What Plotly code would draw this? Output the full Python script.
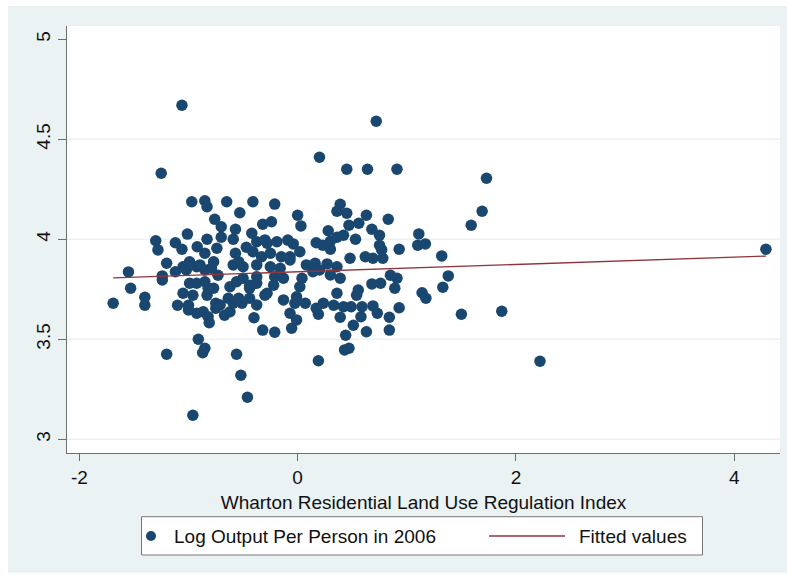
import plotly.graph_objects as go

# Wharton Residential Land Use Regulation Index (x) vs Log Output Per Person in 2006 (y)
X_VALS = [
    -1.06, -1.25, 0.72, 0.20, 0.45, 0.64, 0.91, 1.73, 1.69, 1.59, 1.87, 2.22, 4.29, 1.50,
    -0.96, -0.46, -0.52, -0.56, -1.20, -0.91, -0.85, -0.87, 0.19, 0.43, 0.47,
    -1.69, -1.55, -1.53, -1.40, -1.40, -1.24, -1.24, -1.20, -1.30, -1.28, -1.12, -1.06, -1.01,
    -0.97, -0.85, -0.83, -0.65, -0.41, -0.21, -0.53, -0.76, -0.70, -0.70, -0.57, -0.59,
    -0.32, -0.24, -0.92, -0.83, -0.74, -0.85, -0.57, -0.47, -0.42, -0.375, -0.28, -0.19,
    -0.09, -0.04, 0.02, -0.07, -0.25, -0.33, -0.15, -0.41, -0.30,
    0.00, 0.03, 0.39, 0.36, 0.45, 0.63, 0.83, 0.47, 0.56, 0.28, 0.68, 0.75, 0.42, 0.36,
    0.53, 0.17, 0.23, 0.30, 0.75, 0.77, 1.11, 1.10, 1.17, 0.93, 1.32, 0.48, 0.62, 0.69,
    0.78, 0.30,
    0.08, 0.16, 0.27, 0.36, 0.14, 0.20, 0.30, 0.39, 0.04, 0.02, -0.01, -0.025, 0.07,
    -0.07, -0.01, -0.055, 0.85, 0.91, 1.38, 0.68, 0.76, 0.89, 1.33, 1.14, 1.175, 0.36,
    0.555, 0.54, 0.235, 0.33, 0.42, 0.49, 0.59, 0.69, 0.73, 0.93, 0.19, 0.39, 0.58, 0.84,
    0.51, 0.63, 0.84, 0.44, 0.17,
    -1.10, -1.00, -1.00, -0.925, -0.865, -0.82, -0.81, -0.75, -0.75, -0.67, -0.635, -0.59,
    -0.40, -0.32, -0.21, -1.05, -0.99, -0.85, -0.82, -0.77, -0.83, -0.73, -0.62, -0.56,
    -0.50, -0.44, -0.375, -0.28, -0.22, -0.13, -0.54, -0.44, -1.12, -1.02, -0.925, -0.85,
    -0.79, -0.77, -0.59, -0.50, -0.375, -0.25, -0.16, -0.07, -1.05, -0.99, -0.895, -0.54,
    -0.375, -0.21, -0.44, -0.925, -0.96, -0.71, -0.51, -0.375, -0.30, -0.13, -0.62,
]
Y_VALS = [
    4.67, 4.33, 4.59, 4.41, 4.35, 4.35, 4.35, 4.305, 4.14, 4.07, 3.64, 3.39, 3.95, 3.625,
    3.12, 3.21, 3.32, 3.425, 3.425, 3.50, 3.455, 3.433, 3.393, 3.447, 3.455,
    3.68, 3.837, 3.755, 3.71, 3.67, 3.817, 3.797, 3.88, 3.993, 3.947, 3.983, 3.95, 4.026,
    4.188, 4.193, 4.163, 4.188, 4.188, 4.176, 4.133, 4.10, 4.063, 4.01, 4.05, 4.00,
    4.075, 4.088, 3.963, 4.00, 3.955, 3.93, 3.93, 3.96, 4.03, 3.988, 3.98, 3.988,
    3.996, 3.977, 3.938, 3.913, 3.93, 3.913, 3.913, 3.938, 3.997,
    4.12, 4.067, 4.175, 4.14, 4.13, 4.12, 4.10, 4.07, 4.08, 4.043, 4.05, 4.02, 4.02, 4.01,
    4.00, 3.983, 3.97, 3.95, 3.97, 3.947, 4.027, 3.97, 3.977, 3.95, 3.917, 3.905, 3.913, 3.905,
    3.905, 3.99,
    3.872, 3.88, 3.877, 3.863, 3.838, 3.847, 3.822, 3.805, 3.805, 3.763, 3.713, 3.68, 3.68,
    3.63, 3.597, 3.555, 3.82, 3.805, 3.817, 3.777, 3.78, 3.755, 3.76, 3.733, 3.705, 3.73,
    3.746, 3.72, 3.68, 3.67, 3.663, 3.663, 3.663, 3.667, 3.63, 3.658, 3.625, 3.61, 3.613, 3.61,
    3.57, 3.538, 3.546, 3.52, 3.655,
    3.67, 3.67, 3.647, 3.63, 3.638, 3.613, 3.583, 3.68, 3.655, 3.62, 3.705, 3.68,
    3.608, 3.546, 3.535, 3.73, 3.78, 3.788, 3.755, 3.755, 3.72, 3.82, 3.763, 3.788,
    3.805, 3.77, 3.78, 3.73, 3.77, 3.805, 3.705, 3.705, 3.838, 3.847, 3.863, 3.847,
    3.855, 3.888, 3.872, 3.863, 3.872, 3.863, 3.855, 3.897, 3.863, 3.888, 3.872, 3.888,
    3.813, 3.813, 3.755, 3.78, 3.72, 3.672, 3.68, 3.672, 3.72, 3.697, 3.638,
]

# Fitted values at the ends of the data range
FIT_X = [-1.69, 4.29]
FIT_Y = [3.807, 3.916]

X_TICKS = [-2, 0, 2, 4]
X_TICK_TEXT = ["-2", "0", "2", "4"]
Y_TICKS = [3, 3.5, 4, 4.5, 5]
Y_TICK_TEXT = ["3", "3.5", "4", "4.5", "5"]
GRID_Y = [3, 3.5, 4, 4.5]

SERIES_NAME = "Log Output Per Person in 2006"
FIT_NAME = "Fitted values"
X_TITLE = "Wharton Residential Land Use Regulation Index"

NAVY = "#1A476F"
MAROON = "#90353B"
BG = "#EAF2F3"
AXIS = "#6E6E6E"
FONT = "Liberation Sans, Arial, Helvetica, sans-serif"

fig = go.Figure()
fig.add_trace(go.Scatter(
    x=X_VALS, y=Y_VALS, mode="markers", name=SERIES_NAME,
    marker=dict(color=NAVY, size=11.5, line=dict(width=0)),
    showlegend=False, cliponaxis=False,
))
fig.add_trace(go.Scatter(
    x=FIT_X, y=FIT_Y, mode="lines", name=FIT_NAME,
    line=dict(color=MAROON, width=1.4), showlegend=False,
))

shapes = []
# outer graph region background
shapes.append(dict(type="rect", xref="paper", yref="paper", x0=-0.0827, x1=1.0098,
                   y0=-0.281, y1=1.0468, fillcolor=BG, line=dict(width=0), layer="below"))
# white plot region
shapes.append(dict(type="rect", xref="paper", yref="paper", x0=0, x1=1, y0=0, y1=1,
                   fillcolor="white", line=dict(width=0), layer="below"))
for gy in GRID_Y:
    shapes.append(dict(type="line", xref="paper", yref="y", x0=0, x1=1, y0=gy, y1=gy,
                       line=dict(color=BG, width=1.6), layer="below"))
# legend box
shapes.append(dict(type="rect", xref="paper", yref="paper", x0=0.1045, x1=0.8913,
                   y0=-0.2389, y1=-0.1492, fillcolor="white",
                   line=dict(color="#777777", width=1)))
# legend marker
shapes.append(dict(type="circle", xref="paper", yref="paper", xsizemode="pixel",
                   ysizemode="pixel", xanchor=0.1178, yanchor=-0.1944,
                   x0=-5, x1=5, y0=-5, y1=5, fillcolor=NAVY, line=dict(width=0)))
# legend line sample
shapes.append(dict(type="line", xref="paper", yref="paper", x0=0.5919, x1=0.6985,
                   y0=-0.1944, y1=-0.1944, line=dict(color=MAROON, width=1.4)))

annotations = [
    dict(text=SERIES_NAME, xref="paper", yref="paper", x=0.1473, y=-0.1944,
         xanchor="left", yanchor="middle", showarrow=False,
         font=dict(size=19, color="#111111", family=FONT)),
    dict(text=FIT_NAME, xref="paper", yref="paper", x=0.7153, y=-0.1944,
         xanchor="left", yanchor="middle", showarrow=False,
         font=dict(size=19, color="#111111", family=FONT)),
]

fig.update_layout(
    width=787, height=575,
    margin=dict(l=67, r=7, t=26, b=122, pad=0),
    paper_bgcolor="white", plot_bgcolor="rgba(0,0,0,0)",
    font=dict(family=FONT, size=19, color="#111111"),
    shapes=shapes, annotations=annotations, showlegend=False,
)
fig.update_xaxes(
    range=[-2.113, 4.419], tickvals=X_TICKS, ticktext=X_TICK_TEXT, ticks="outside",
    ticklen=7, tickcolor=AXIS, tickwidth=1.2, showline=True, linecolor=AXIS, linewidth=1.4,
    showgrid=False, zeroline=False, tickfont=dict(size=19, color="#111111"),
    title=dict(text=X_TITLE, font=dict(size=19, color="#111111"), standoff=8),
)
fig.update_yaxes(
    range=[2.9315, 5.0665], tickvals=Y_TICKS, ticktext=Y_TICK_TEXT, ticks="outside",
    ticklen=8, tickcolor=AXIS, tickwidth=1.2, showline=True, linecolor=AXIS,
    linewidth=1.4, showgrid=False, zeroline=False, tickangle=-90,
    tickfont=dict(size=19, color="#111111"),
)

fig.write_html("out.html")
